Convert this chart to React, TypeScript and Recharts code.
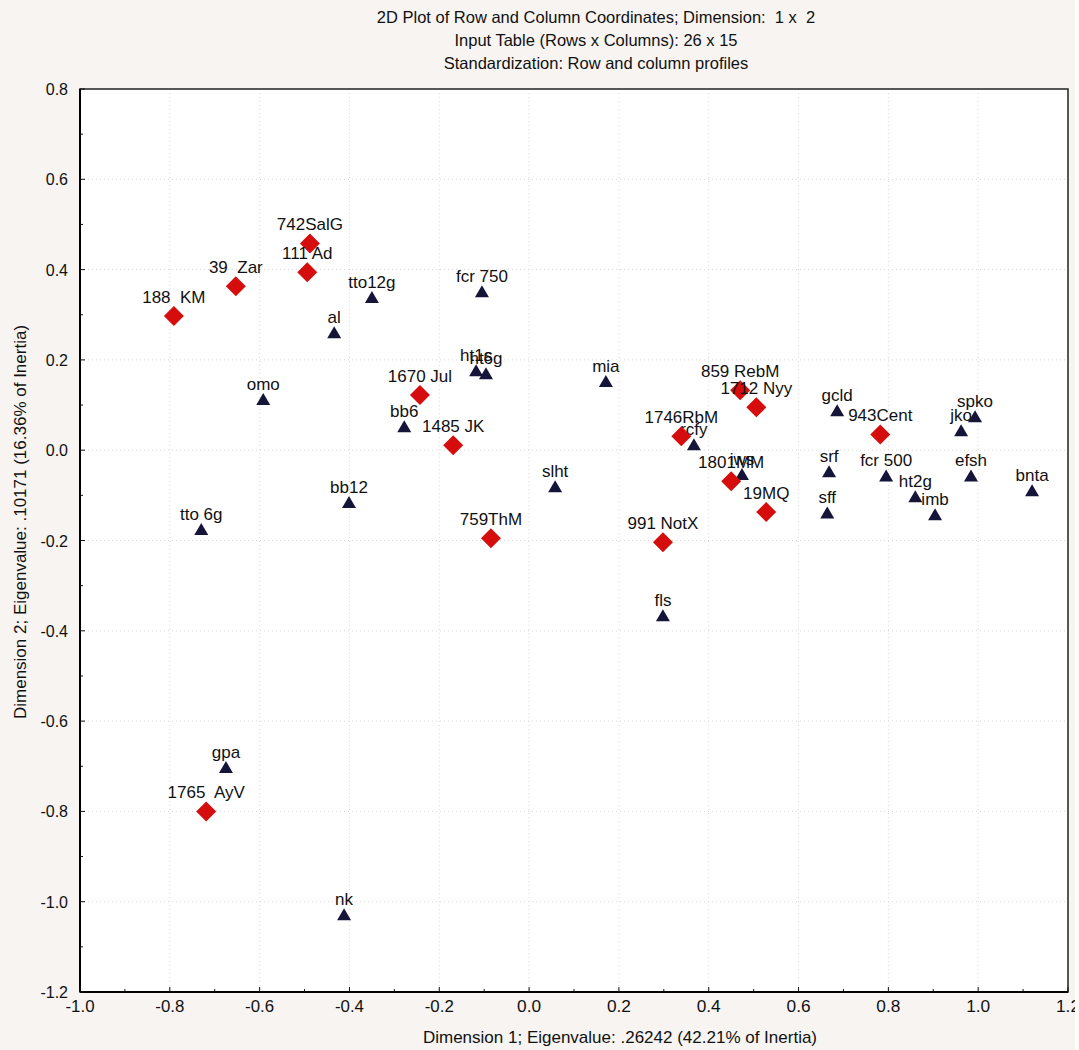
import React from "react";
import {
  ScatterChart,
  Scatter,
  XAxis,
  YAxis,
  CartesianGrid,
  ReferenceArea,
} from "recharts";

// column points (dark triangles)
const colNames = [
  "tto12g", "al", "fcr 750", "ht1s", "ht6g", "mia", "omo", "bb6", "rcfy",
  "gcld", "jko", "spko", "iws", "srf", "sff", "fcr 500", "ht2g", "imb",
  "efsh", "bnta", "slht", "bb12", "tto 6g", "fls", "gpa", "nk",
];
const colX = [
  -0.35, -0.434, -0.105, -0.118, -0.096, 0.171, -0.592, -0.278, 0.367,
  0.686, 0.962, 0.993, 0.474, 0.668, 0.664, 0.795, 0.86, 0.904,
  0.984, 1.12, 0.058, -0.401, -0.73, 0.298, -0.675, -0.412,
];
const colY = [
  0.337, 0.259, 0.35, 0.175, 0.168, 0.151, 0.111, 0.051, 0.011,
  0.086, 0.042, 0.073, -0.055, -0.049, -0.14, -0.058, -0.104, -0.144,
  -0.058, -0.091, -0.082, -0.117, -0.177, -0.368, -0.704, -1.03,
];

// row points (red diamonds)
const rowNames = [
  "742SalG", "111 Ad", "39  Zar", "188  KM", "1670 Jul", "1485 JK", "759ThM",
  "991 NotX", "1746RbM", "859 RebM", "1712 Nyy", "1801MM", "19MQ", "943Cent",
  "1765  AyV",
];
const rowX = [
  -0.488, -0.494, -0.653, -0.791, -0.243, -0.169, -0.085,
  0.298, 0.339, 0.47, 0.506, 0.45, 0.528, 0.782, -0.719,
];
const rowY = [
  0.458, 0.394, 0.363, 0.297, 0.122, 0.011, -0.195,
  -0.204, 0.031, 0.133, 0.095, -0.069, -0.137, 0.035, -0.8,
];

const xTicks = [
  -1.0, -0.9, -0.8, -0.7, -0.6, -0.5, -0.4, -0.3, -0.2, -0.1, 0.0,
  0.1, 0.2, 0.3, 0.4, 0.5, 0.6, 0.7, 0.8, 0.9, 1.0, 1.1, 1.2,
];
const yTicks = [
  -1.2, -1.1, -1.0, -0.9, -0.8, -0.7, -0.6, -0.5, -0.4, -0.3, -0.2,
  -0.1, 0.0, 0.1, 0.2, 0.3, 0.4, 0.5, 0.6, 0.7, 0.8,
];
const xGrid = [-0.8, -0.6, -0.4, -0.2, 0.0, 0.2, 0.4, 0.6, 0.8, 1.0];
const yGrid = [-1.0, -0.8, -0.6, -0.4, -0.2, 0.0, 0.2, 0.4, 0.6];

const titleLines = [
  "2D Plot of Row and Column Coordinates; Dimension:  1 x  2",
  "Input Table (Rows x Columns): 26 x 15",
  "Standardization: Row and column profiles",
];
const xTitle = "Dimension 1; Eigenvalue: .26242 (42.21% of Inertia)";
const yTitle = "Dimension 2; Eigenvalue: .10171 (16.36% of Inertia)";

const colData = colNames.map((name, i) => ({ name, x: colX[i], y: colY[i] }));
const rowData = rowNames.map((name, i) => ({ name, x: rowX[i], y: rowY[i] }));

const SANS = "'Liberation Sans', Arial, sans-serif";

const isMajor = (v: number) => Math.abs(Math.round(v * 10)) % 2 === 0;

const XTick = (props: any) => {
  const { x, y, payload } = props;
  const v = payload.value;
  const major = isMajor(v);
  return (
    <g>
      <line x1={x} x2={x} y1={y} y2={y - (major ? 5 : 3)} stroke="#111" />
      {major && (
        <text x={x} y={y + 20} textAnchor="middle" fontSize={16} fontFamily={SANS} fill="#111"
          textLength={v < 0 ? 29 : 24} lengthAdjust="spacingAndGlyphs">
          {v.toFixed(1)}
        </text>
      )}
    </g>
  );
};

const YTick = (props: any) => {
  const { x, y, payload } = props;
  const v = payload.value;
  const major = isMajor(v);
  return (
    <g>
      <line x1={x} x2={x + (major ? 5 : 3)} y1={y} y2={y} stroke="#111" />
      {major && (
        <text x={x - 12} y={y + 6} textAnchor="end" fontSize={16} fontFamily={SANS} fill="#111">
          {v.toFixed(1)}
        </text>
      )}
    </g>
  );
};

const labelStyle = { whiteSpace: "pre" } as React.CSSProperties;

const Triangle = (props: any) => {
  const { cx, cy, payload } = props;
  return (
    <g>
      <path d={`M${cx},${cy - 7}L${cx + 7},${cy + 5}L${cx - 7},${cy + 5}Z`} fill="#15153a" />
      <text x={cx} y={cy - 10} textAnchor="middle" fontSize={17} fontFamily={SANS} fill="#111" style={labelStyle}>
        {payload.name}
      </text>
    </g>
  );
};

const Diamond = (props: any) => {
  const { cx, cy, payload } = props;
  return (
    <g>
      <path d={`M${cx},${cy - 10}L${cx + 10},${cy}L${cx},${cy + 10}L${cx - 10},${cy}Z`} fill="#d50d0d" />
      <text x={cx} y={cy - 13} textAnchor="middle" fontSize={17} fontFamily={SANS} fill="#111" style={labelStyle}>
        {payload.name}
      </text>
    </g>
  );
};

export default function App() {
  return (
    <div
      style={{
        position: "absolute",
        left: 0,
        top: 0,
        width: 1075,
        height: 1050,
        overflow: "hidden",
        background: "#f7f4f1",
      }}
    >
      <ScatterChart width={1079} height={1050} margin={{ top: 89, right: 11, bottom: 0, left: 0 }}>
        <CartesianGrid
          fill="#ffffff"
          stroke="#d8d8d8"
          strokeDasharray="1 3"
          horizontalValues={yGrid}
          verticalValues={xGrid}
        />
        <XAxis
          type="number"
          dataKey="x"
          domain={[-1, 1.2]}
          ticks={xTicks}
          interval={0}
          height={58}
          tickSize={0}
          tickMargin={0}
          tick={<XTick />}
          axisLine={{ stroke: "#000", strokeWidth: 2 }}
          allowDataOverflow
        />
        <YAxis
          type="number"
          dataKey="y"
          domain={[-1.2, 0.8]}
          ticks={yTicks}
          interval={0}
          width={80}
          tickSize={0}
          tickMargin={0}
          tick={<YTick />}
          axisLine={{ stroke: "#000", strokeWidth: 2 }}
          allowDataOverflow
        />
        <ReferenceArea x1={-1} x2={1.2} y1={-1.2} y2={0.8} fill="none" stroke="#222" strokeWidth={1.5} />
        <Scatter data={colData} shape={<Triangle />} isAnimationActive={false} />
        <Scatter data={rowData} shape={<Diamond />} isAnimationActive={false} />
      </ScatterChart>
      <svg
        width={1079}
        height={1050}
        style={{ position: "absolute", left: 0, top: 0, pointerEvents: "none" }}
      >
        {titleLines.map((t, i) => (
          <text
            key={t}
            x={596}
            y={23 + i * 23}
            textAnchor="middle"
            fontSize={16.5}
            fontFamily={SANS}
            fill="#111"
            style={labelStyle}
          >
            {t}
          </text>
        ))}
        <text x={620} y={1043} textAnchor="middle" fontSize={17} fontFamily={SANS} fill="#111">
          {xTitle}
        </text>
        <text
          x={26}
          y={522}
          textAnchor="middle"
          fontSize={17}
          fontFamily={SANS}
          fill="#111"
          transform="rotate(-90, 26, 522)"
        >
          {yTitle}
        </text>
      </svg>
    </div>
  );
}
